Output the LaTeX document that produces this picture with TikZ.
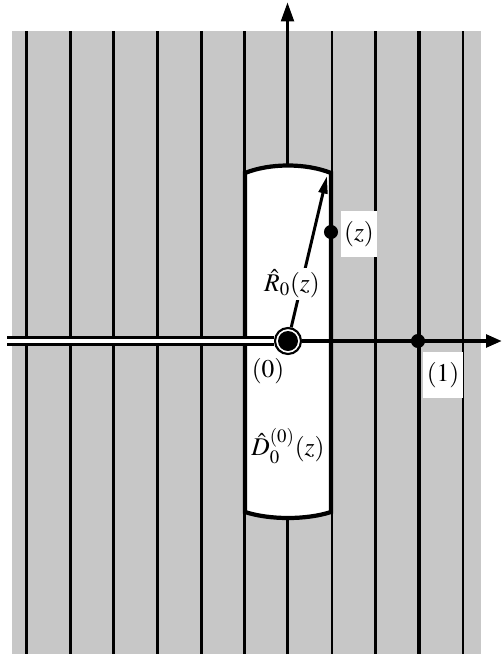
\documentclass[tikz,border=0pt]{standalone}
\usepackage{mathptmx}
\usepackage{fontspec}
\setmainfont{Liberation Serif}
\usetikzlibrary{arrows.meta}

\begin{document}
\begin{tikzpicture}[
  x=0.02cm, y=-0.02cm,
  every node/.style={font=\fontsize{14.5}{17}\selectfont},
  rule/.style={line width=1.6pt},
  axis/.style={line width=2.2pt},
  dot/.style={circle, fill=black, minimum size=8pt, inner sep=0pt},
  lab/.style={fill=white, inner xsep=2pt, inner ysep=6pt}
]
\useasboundingbox (0,0) rectangle (502,656);
\fill[black!22] (12,31) rectangle (481,654);
\foreach \k in {0,...,5,7,8,10}
  \draw[rule] ({26.5+43.65*\k},31) -- ({26.5+43.65*\k},654);
\draw[rule, line width=2.7pt] (419,31) -- (419,654);
\coordinate (vbot) at (287.5,654);
\coordinate (vtop) at (287.5,2);
\draw[axis, -{Triangle[length=11pt, width=7pt]}] (vbot) -- (vtop);
\filldraw[fill=white, line width=2.4pt] (245,173) .. controls (270,163) and (306,163) .. (331,173)
  -- (331,512) .. controls (306,520) and (270,520) .. (245,512) -- cycle;
\node[circle, draw, line width=1.2pt, fill=white, minimum size=14.8pt, inner sep=0pt] (o) at (288,341) {};
\fill (o.center) circle[radius=10];
\coordinate (sl) at (7,341);
\coordinate (hend) at (502,341);
\coordinate (c) at (327,176);
\draw[line width=1.7pt, double=white, double distance=2.8pt] (sl) -- (o);
\draw[axis, -{Triangle[length=9pt, width=7pt]}] (o) -- (hend);
\draw[line width=1.7pt, -{Triangle[length=10pt, width=5pt]}] (o) -- (c);
\node[fill=white, inner sep=1pt] (r) at (292,284) {$\hat R_0(z)$};
\node[dot] (p1) at (418,341) {};
\node[lab] (l1) at (443,375) {$(1)$};
\node[dot] (z) at (331,232) {};
\node[lab] (lz) at (359,234) {$(z)$};
\node (l0) at (268,371) {$(0)$};
\node (d) at (288,446) {$\hat D_0^{(0)}(z)$};
\end{tikzpicture}
\end{document}
